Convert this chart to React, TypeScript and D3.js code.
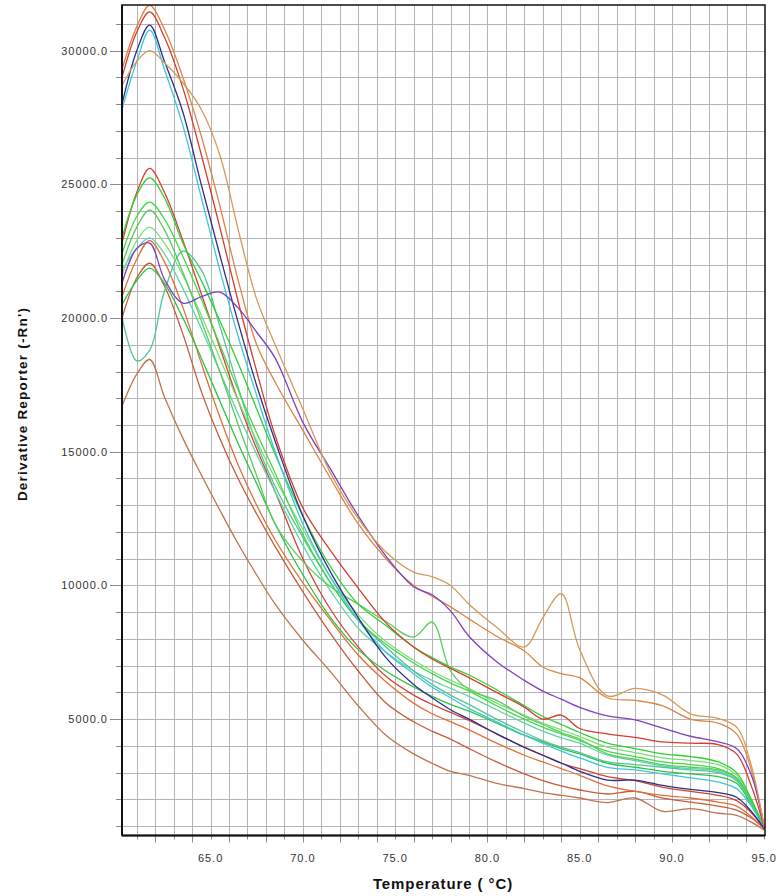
import React, { useEffect, useRef } from 'react';
import * as d3 from 'd3';

// melt curve, derivative reporter vs temperature
const temps = [60.2, 61, 61.7, 62.5, 63.5, 64.5, 65.5, 66.5, 67.5, 68.5, 70, 71.5, 73, 74.5, 76, 77, 78, 79, 80.5, 82, 83, 84, 85, 86.5, 88, 89.5, 91, 92.5, 93.5, 94.3, 95];

const tanBump = [28700, 29600, 30000, 29550, 28800, 27800, 26100, 23300, 20700, 19000, 16600, 14200, 12500, 11250, 10500, 10330, 10000, 9300, 8440, 7700, 8790, 9690, 7600, 5870, 6150, 5900, 5200, 5030, 4700, 3260, 950];
const orangeHigh = [29300, 30900, 31700, 30800, 29000, 26800, 24200, 21400, 19000, 17600, 15800, 14000, 12300, 11000, 10000, 9600, 9200, 8750, 8100, 7550, 6950, 6700, 6550, 5800, 5700, 5500, 5000, 4850, 4450, 3100, 950];
const redHigh = [29000, 30700, 31450, 30500, 28600, 26100, 23400, 20600, 18000, 15600, 12900, 11300, 9900, 8600, 7700, 7250, 6900, 6550, 6000, 5450, 5000, 5150, 4650, 4450, 4320, 4150, 4100, 4050, 3700, 2500, 950];
const navy = [28000, 30000, 30960, 29600, 27700, 24980, 22360, 19820, 17470, 15390, 12600, 10500, 8800, 7300, 6300, 5800, 5350, 5000, 4450, 3940, 3650, 3360, 3050, 2720, 2720, 2520, 2370, 2250, 2080, 1550, 900];
const cyan = [27800, 29600, 30770, 29300, 27200, 24500, 21800, 19300, 17100, 15000, 12300, 10300, 8700, 7500, 6700, 6200, 5800, 5400, 4900, 4400, 4100, 3800, 3550, 3200, 3100, 2950, 2800, 2650, 2400, 1750, 900];
const purple = [21300, 22600, 22800, 21450, 20560, 20800, 20970, 20370, 19470, 18500, 16100, 14350, 12600, 11100, 9950, 9650, 9050, 8100, 7150, 6450, 6050, 5750, 5440, 5120, 4970, 4660, 4360, 4150, 3900, 2900, 950];
const redMid = [22800, 24700, 25600, 24700, 22900, 20900, 18900, 16900, 15100, 13500, 11000, 9100, 7700, 6600, 5900, 5550, 5250, 4950, 4450, 3950, 3650, 3350, 3150, 2850, 2700, 2450, 2300, 2150, 1950, 1500, 900];
const greenA = [23000, 24600, 25240, 24500, 22800, 21400, 19900, 18300, 16600, 14900, 12600, 10700, 9300, 8500, 7700, 7300, 6950, 6650, 6100, 5500, 5100, 4800, 4500, 4100, 3900, 3700, 3600, 3400, 3000, 2000, 950];
const greenB = [22400, 23800, 24340, 23700, 22300, 20700, 19000, 17300, 15700, 14200, 11900, 10100, 8700, 7800, 7100, 6700, 6350, 6050, 5500, 5000, 4700, 4450, 4200, 3800, 3600, 3400, 3300, 3150, 2800, 1900, 950];
const greenBump = [22000, 23400, 24040, 23300, 21700, 19900, 18000, 16000, 14100, 12300, 10900, 9950, 9300, 8650, 8070, 8630, 6800, 6100, 5700, 5100, 4800, 4500, 4250, 3700, 3500, 3300, 3200, 3100, 2800, 1900, 950];
const greenC = [21600, 22900, 23400, 22800, 21600, 20100, 18500, 16900, 15400, 14000, 12100, 10300, 8900, 7900, 7200, 6800, 6450, 6150, 5600, 5150, 4850, 4600, 4350, 3950, 3750, 3550, 3450, 3300, 2900, 1950, 950];
const greenD = [20500, 21400, 21870, 21300, 20000, 18500, 16900, 15300, 13800, 12300, 10400, 8800, 7600, 6800, 6200, 5850, 5550, 5300, 4850, 4400, 4150, 3900, 3700, 3350, 3200, 3050, 2950, 2850, 2600, 1800, 950];
const tealDip = [20040, 18400, 18800, 21000, 22500, 21800, 19700, 17400, 15300, 13700, 11800, 10100, 8700, 7700, 6800, 6300, 5900, 5550, 5000, 4500, 4200, 3950, 3750, 3400, 3300, 3200, 3100, 3000, 2700, 1900, 950];
const tealGreen = [21800, 22600, 23000, 22400, 21100, 19600, 18000, 16400, 14900, 13500, 11500, 9800, 8400, 7500, 6800, 6450, 6150, 5850, 5350, 4850, 4550, 4300, 4100, 3650, 3450, 3250, 3150, 3050, 2750, 1850, 950];
const orangeMid = [20800, 22200, 22900, 22100, 20400, 18300, 16300, 14500, 13000, 11700, 10100, 8700, 7400, 6400, 5600, 5200, 4900, 4600, 4100, 3650, 3400, 3150, 2900, 2500, 2300, 2150, 2050, 1900, 1750, 1350, 900];
const brownMid = [20000, 21500, 22050, 21200, 19400, 17250, 15500, 13980, 12670, 11450, 9760, 8200, 6800, 5600, 4900, 4550, 4250, 3900, 3400, 2950, 2700, 2500, 2350, 2200, 2300, 2050, 1900, 1750, 1600, 1300, 900];
const brownLow = [16700, 17900, 18450, 17050, 15500, 14130, 12820, 11550, 10390, 9300, 7950, 6770, 5500, 4400, 3700, 3350, 3050, 2900, 2600, 2400, 2250, 2150, 2050, 1880, 2050, 1550, 1650, 1480, 1400, 1150, 850];

const series = [
  { name: 'brownLow', color: '#c27350', values: brownLow },
  { name: 'brownMid', color: '#c85a3a', values: brownMid },
  { name: 'orangeMid', color: '#e07038', values: orangeMid },
  { name: 'redMid', color: '#d24436', values: redMid },
  { name: 'greenD', color: '#2cc444', values: greenD },
  { name: 'tealGreen', color: '#5cd6a8', values: tealGreen },
  { name: 'tealDip', color: '#52c49c', values: tealDip },
  { name: 'greenC', color: '#7ade7a', values: greenC },
  { name: 'greenB', color: '#46d846', values: greenB },
  { name: 'greenBump', color: '#58cc5c', values: greenBump },
  { name: 'greenA', color: '#30d030', values: greenA },
  { name: 'cyan', color: '#3ec6d6', values: cyan },
  { name: 'navy', color: '#2e2e88', values: navy },
  { name: 'redHigh', color: '#d63c30', values: redHigh },
  { name: 'orangeHigh', color: '#de8446', values: orangeHigh },
  { name: 'purple', color: '#8040c0', values: purple },
  { name: 'tanBump', color: '#d69a58', values: tanBump },
];

const xTicks = [65, 70, 75, 80, 85, 90, 95];
const yTicks = [5000, 10000, 15000, 20000, 25000, 30000];

const W = 778;
const H = 896;
const plot = { left: 122, top: 5, right: 765, bottom: 835.5 };
const font = '"Liberation Sans", Arial, sans-serif';

export default function App() {
  const ref = useRef<SVGSVGElement>(null);

  useEffect(() => {
    const svg = d3.select(ref.current);
    svg.selectAll('*').remove();

    const x = d3.scaleLinear().domain([60.2, 95.04]).range([plot.left, plot.right]);
    const y = d3.scaleLinear().domain([648, 31709]).range([plot.bottom, plot.top]);

    svg.append('defs').append('clipPath').attr('id', 'plot-clip')
      .append('rect')
      .attr('x', plot.left).attr('y', plot.top)
      .attr('width', plot.right - plot.left).attr('height', plot.bottom - plot.top);

    // grid
    const grid = svg.append('g').attr('stroke', '#b4b4b4').attr('stroke-width', 1);
    grid.selectAll('line.v')
      .data(d3.range(61, 95))
      .enter().append('line')
      .attr('x1', (d) => Math.round(x(d)) + 0.5).attr('x2', (d) => Math.round(x(d)) + 0.5)
      .attr('y1', plot.top).attr('y2', plot.bottom);
    grid.selectAll('line.h')
      .data(d3.range(1000, 32000, 1000))
      .enter().append('line')
      .attr('y1', (d) => Math.round(y(d)) + 0.5).attr('y2', (d) => Math.round(y(d)) + 0.5)
      .attr('x1', plot.left).attr('x2', plot.right);

    // tick marks
    const ticks = svg.append('g').attr('stroke', '#8a8a8a').attr('stroke-width', 1);
    ticks.selectAll('line.xt')
      .data(d3.range(61, 96))
      .enter().append('line')
      .attr('x1', (d) => Math.round(x(d)) + 0.5).attr('x2', (d) => Math.round(x(d)) + 0.5)
      .attr('y1', plot.bottom).attr('y2', (d) => plot.bottom + (d % 2 === 0 ? 7 : 4));
    ticks.selectAll('line.yt')
      .data(d3.range(1000, 32000, 1000))
      .enter().append('line')
      .attr('y1', (d) => Math.round(y(d)) + 0.5).attr('y2', (d) => Math.round(y(d)) + 0.5)
      .attr('x1', (d) => plot.left - (d % 5000 === 0 ? 12 : 6)).attr('x2', plot.left);

    // curves
    const line = d3.line<number>()
      .x((_, i) => x(temps[i]))
      .y((d) => y(d))
      .curve(d3.curveCatmullRom.alpha(0.5));

    svg.append('g')
      .attr('clip-path', 'url(#plot-clip)')
      .selectAll('path')
      .data(series)
      .enter().append('path')
      .attr('d', (s) => line(s.values))
      .attr('fill', 'none')
      .attr('stroke', (s) => s.color)
      .attr('stroke-width', 1.3)
      .attr('stroke-linejoin', 'round');

    // frame
    svg.append('rect')
      .attr('x', plot.left).attr('y', plot.top)
      .attr('width', plot.right - plot.left).attr('height', plot.bottom - plot.top)
      .attr('fill', 'none').attr('stroke', '#111').attr('stroke-width', 1.5);
    svg.append('line')
      .attr('x1', plot.left).attr('x2', plot.left)
      .attr('y1', plot.top).attr('y2', plot.bottom)
      .attr('stroke', '#111').attr('stroke-width', 2);
    svg.append('line')
      .attr('x1', plot.left).attr('x2', plot.right)
      .attr('y1', plot.bottom).attr('y2', plot.bottom)
      .attr('stroke', '#111').attr('stroke-width', 2);

    // tick labels
    svg.append('g').selectAll('text')
      .data(xTicks)
      .enter().append('text')
      .attr('x', (d) => x(d)).attr('y', 862)
      .attr('text-anchor', 'middle')
      .attr('font-family', font).attr('font-size', 11).attr('letter-spacing', 1).attr('fill', '#333')
      .text((d) => d3.format('.1f')(d));
    svg.append('g').selectAll('text')
      .data(yTicks)
      .enter().append('text')
      .attr('x', 108).attr('y', (d) => y(d) + 4)
      .attr('text-anchor', 'end')
      .attr('font-family', font).attr('font-size', 11).attr('letter-spacing', 1).attr('fill', '#333')
      .text((d) => d3.format('.1f')(d));

    // axis titles
    svg.append('text')
      .attr('x', 443).attr('y', 889)
      .attr('text-anchor', 'middle')
      .attr('font-family', font).attr('font-size', 15).attr('letter-spacing', 0.9)
      .attr('font-weight', 'bold').attr('fill', '#111')
      .text('Temperature ( \u00B0C)');
    svg.append('text')
      .attr('transform', 'translate(27, 404) rotate(-90)')
      .attr('text-anchor', 'middle')
      .attr('font-family', font).attr('font-size', 13.5).attr('letter-spacing', 1.2)
      .attr('font-weight', 'bold').attr('fill', '#111')
      .text("Derivative Reporter (-Rn')");
  }, []);

  return (
    <svg
      ref={ref}
      width={W}
      height={H}
      style={{ position: 'absolute', left: 0, top: 0, background: '#fff' }}
    />
  );
}
